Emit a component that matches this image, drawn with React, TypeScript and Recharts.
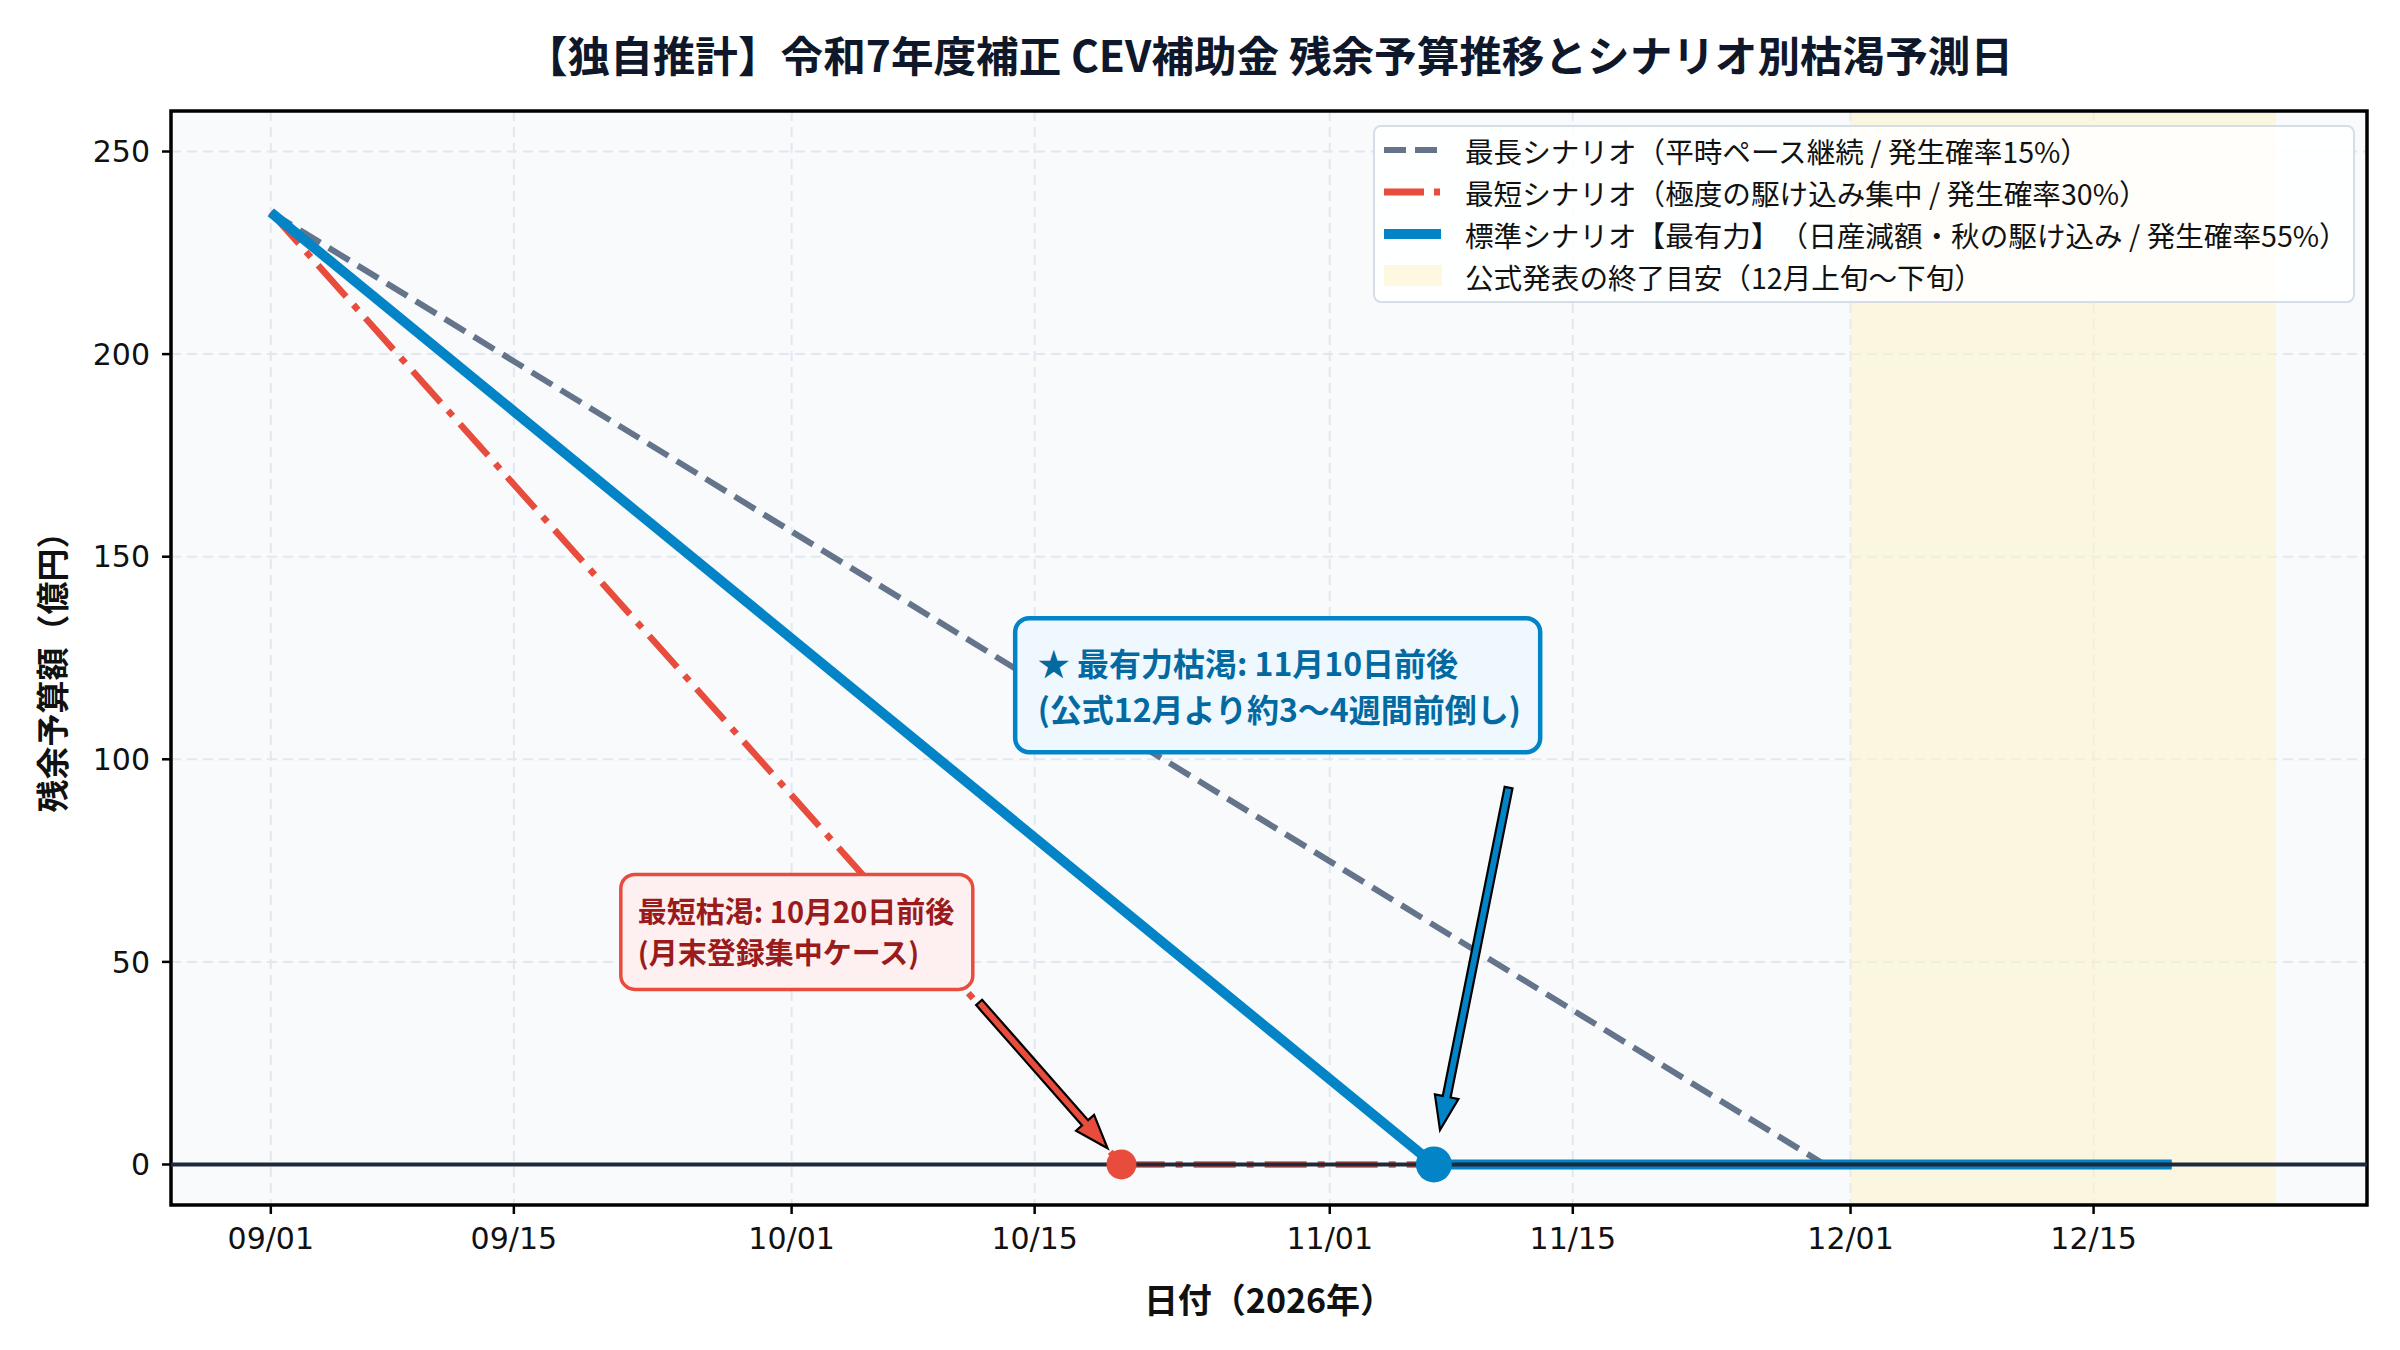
import React from 'react';
import {
  LineChart, Line, XAxis, YAxis, CartesianGrid, ReferenceArea, ReferenceLine, ReferenceDot, Legend,
} from 'recharts';

// Axis ticks (days counted from 2026-09-01)
const dayTicks = [0, 14, 30, 44, 61, 75, 91, 105];
const dayTickLabels = ['09/01', '09/15', '10/01', '10/15', '11/01', '11/15', '12/01', '12/15'];
const valueTicks = [0, 50, 100, 150, 200, 250];
const xDomain = [-5.75, 120.75];
const yDomain = [-10, 260];

// Scenario series (remaining budget, 億円)
const scenarioDays = [0, 49, 67, 89.5, 109.5];
const longestRemaining = [235, null, null, 0, 0];
const shortestRemaining = [235, 0, 0, 0, 0];
const standardRemaining = [235, null, 0, 0, 0];

const shortestDryDay = 49;
const standardDryDay = 67;
const officialEndRange = [91, 115.5];

const seriesNames = [
  '最長シナリオ（平時ペース継続 / 発生確率15%）',
  '最短シナリオ（極度の駆け込み集中 / 発生確率30%）',
  '標準シナリオ【最有力】（日産減額・秋の駆け込み / 発生確率55%）',
];
const shadeName = '公式発表の終了目安（12月上旬～下旬）';

// Annotation anchors (data coords)
const standardNote = { day: 58.0, value: 118.3, lines: ['★ 最有力枯渇: 11月10日前後', '(公式12月より約3～4週間前倒し)'] };
const shortestNote = { day: 30.3, value: 57.4, lines: ['最短枯渇: 10月20日前後', '(月末登録集中ケース)'] };
const standardArrow = { from: { x: 71.3, y: 93 }, to: { x: 67.35, y: 8.5 } };
const shortestArrow = { from: { x: 40.8, y: 40 }, to: { x: 48.2, y: 4 } };

const GRAY = '#64748b';
const RED = '#e74c3c';
const BLUE = '#0284c7';
const JP = "'Noto Sans CJK JP', 'Noto Sans', sans-serif";

const data = scenarioDays.map((day, i) => ({
  day,
  longest: longestRemaining[i],
  shortest: shortestRemaining[i],
  standard: standardRemaining[i],
}));

const noTrim: any = { textSpacingTrim: 'space-all' };

const Arrow = (props: any) => {
  const { x1, y1, x2, y2, fill } = props;
  const dx = x2 - x1, dy = y2 - y1;
  const len = Math.sqrt(dx * dx + dy * dy);
  const ux = dx / len, uy = dy / len;
  const nx = -uy, ny = ux;
  const headLen = 34, headW = 12, shaftW = 4;
  const bx = x2 - ux * headLen, by = y2 - uy * headLen;
  const pts = [
    [x1 + nx * shaftW, y1 + ny * shaftW],
    [bx + nx * shaftW, by + ny * shaftW],
    [bx + nx * headW, by + ny * headW],
    [x2, y2],
    [bx - nx * headW, by - ny * headW],
    [bx - nx * shaftW, by - ny * shaftW],
    [x1 - nx * shaftW, y1 - ny * shaftW],
  ].map((p) => p.join(',')).join(' ');
  return <polygon points={pts} fill={fill} stroke="#000" strokeWidth={2.2} strokeLinejoin="miter" />;
};

const NoteBox = (props: any) => {
  const { cx, cy, w, h, lines, fill, stroke, color, fontSize, textLeft, lineOffsets, strokeWidth } = props;
  return (
    <g>
      <rect x={cx - w / 2} y={cy - h / 2} width={w} height={h} rx={14} ry={14} fill={fill} stroke={stroke} strokeWidth={strokeWidth} />
      {lines.map((t: string, i: number) => (
        <text key={i} x={cx + textLeft} y={cy + lineOffsets[i]} dominantBaseline="central" fontFamily={JP}
          fontWeight="bold" fontSize={fontSize} fill={color} style={noTrim}>{t}</text>
      ))}
    </g>
  );
};

const renderLegend = () => {
  const rows = [
    { name: seriesNames[0], kind: 'line', color: GRAY, width: 6, dash: '22 9' },
    { name: seriesNames[1], kind: 'line', color: RED, width: 7, dash: '40 10 6 10' },
    { name: seriesNames[2], kind: 'line', color: BLUE, width: 10, dash: undefined },
    { name: shadeName, kind: 'rect', color: '#fef8e0' },
  ];
  return (
    <div style={{
      width: 982, height: 178, boxSizing: 'border-box', background: 'rgba(255,255,255,0.85)',
      border: '2px solid #d5dde7', borderRadius: 8, position: 'relative',
    }}>
      {rows.map((r, i) => (
        <div key={i} style={{ position: 'absolute', left: 0, top: 2 + i * 42, height: 42, display: 'flex', alignItems: 'center' }}>
          <svg width={90} height={42} style={{ display: 'block' }}>
            {r.kind === 'line'
              ? <line x1={9} y1={21} x2={66} y2={21} stroke={r.color} strokeWidth={r.width} strokeDasharray={r.dash} />
              : <rect x={9} y={10} width={58} height={21} fill={r.color} />}
          </svg>
          <span style={{ fontFamily: JP, fontSize: 28.6, color: '#111', whiteSpace: 'nowrap', ...noTrim }}>{r.name}</span>
        </div>
      ))}
    </div>
  );
};

export default function App() {
  return (
    <div style={{ position: 'absolute', left: 0, top: 0, width: 2400, height: 1350, background: '#fff', ...noTrim }}>
      <div style={{
        position: 'absolute', left: 0, width: 2538, top: 26, textAlign: 'center', fontFamily: JP,
        fontWeight: 'bold', fontSize: 42.6, color: '#0f172a', lineHeight: '56px', ...noTrim,
      }}>【独自推計】令和7年度補正 CEV補助金 残余予算推移とシナリオ別枯渇予測日</div>
      <div style={{
        position: 'absolute', left: 0, width: 2538, top: 1279, textAlign: 'center', fontFamily: JP,
        fontWeight: 'bold', fontSize: 34, color: '#111', lineHeight: '40px', ...noTrim,
      }}>日付（2026年）</div>
      <div style={{
        position: 'absolute', left: 51, top: 664, transform: 'translate(-50%, -50%) rotate(-90deg)',
        fontFamily: JP, fontWeight: 'bold', fontSize: 33, color: '#111', whiteSpace: 'nowrap', lineHeight: '40px', ...noTrim,
      }}>残余予算額（億円）</div>
      <div style={{ position: 'absolute', left: 0, top: 0 }}>
        <LineChart width={2400} height={1350} data={data} margin={{ top: 111, right: 33, bottom: 65, left: 71 }}>
          <CartesianGrid fill="#f8fafc" stroke="#e2e8f0" strokeWidth={2} strokeDasharray="10 6" />
          <ReferenceArea x1={officialEndRange[0]} x2={officialEndRange[1]} fill="#fef3c7" fillOpacity={0.55} stroke="none" ifOverflow="visible" />
          <XAxis type="number" dataKey="day" domain={xDomain} ticks={dayTicks} allowDataOverflow
            tickFormatter={(d: number) => dayTickLabels[dayTicks.indexOf(d)]}
            axisLine={false} tickLine={{ stroke: '#000', strokeWidth: 2.5 }} tickSize={9} tickMargin={14} height={80}
            tick={{ fontSize: 30, fill: '#111', fontFamily: 'DejaVu Sans' }} />
          <YAxis type="number" domain={yDomain} ticks={valueTicks} allowDataOverflow width={100}
            axisLine={false} tickLine={{ stroke: '#000', strokeWidth: 2.5 }} tickSize={9} tickMargin={12}
            tick={{ fontSize: 30, fill: '#111', fontFamily: 'DejaVu Sans' }} />
          <Line type="linear" dataKey="longest" name={seriesNames[0]} stroke={GRAY} strokeWidth={6}
            strokeDasharray="24 10" dot={false} activeDot={false} connectNulls isAnimationActive={false} />
          <Line type="linear" dataKey="shortest" name={seriesNames[1]} stroke={RED} strokeWidth={6.5}
            strokeDasharray="42 11 7 11" dot={false} activeDot={false} connectNulls isAnimationActive={false} />
          <Line type="linear" dataKey="standard" name={seriesNames[2]} stroke={BLUE} strokeWidth={10}
            dot={false} activeDot={false} connectNulls isAnimationActive={false} />
          <ReferenceLine y={0} stroke="#1e293b" strokeWidth={4} ifOverflow="visible" />
          <ReferenceDot x={shortestDryDay} y={0} r={15} fill={RED} stroke="none" ifOverflow="visible" />
          <ReferenceDot x={standardDryDay} y={0} r={18} fill={BLUE} stroke="none" ifOverflow="visible" />
          <ReferenceArea x1={xDomain[0]} x2={xDomain[1]} y1={yDomain[0]} y2={yDomain[1]} fill="none" stroke="#000" strokeWidth={3.5} ifOverflow="visible" />
          <ReferenceLine segment={[shortestArrow.from, shortestArrow.to]} ifOverflow="visible"
            shape={(p: any) => <Arrow {...p} fill={RED} />} />
          <ReferenceLine segment={[standardArrow.from, standardArrow.to]} ifOverflow="visible"
            shape={(p: any) => <Arrow {...p} fill={BLUE} />} />
          <ReferenceDot x={shortestNote.day} y={shortestNote.value} r={1} ifOverflow="visible"
            shape={(p: any) => <NoteBox cx={p.cx} cy={p.cy} w={352} h={115} lines={shortestNote.lines}
              fill="#fef0f0" stroke={RED} strokeWidth={3.5} color="#991b1b" fontSize={29}
              textLeft={-159} lineOffsets={[-22, 19]} />} />
          <ReferenceDot x={standardNote.day} y={standardNote.value} r={1} ifOverflow="visible"
            shape={(p: any) => <NoteBox cx={p.cx} cy={p.cy} w={525} h={134} lines={standardNote.lines}
              fill="#eff8ff" stroke={BLUE} strokeWidth={4.5} color="#0369a1" fontSize={32}
              textLeft={-240} lineOffsets={[-23, 23]} />} />
          <Legend layout="vertical" align="center" verticalAlign="middle" content={renderLegend}
            wrapperStyle={{ position: 'absolute', left: 1373, top: 125, width: 982, height: 178 }} />
        </LineChart>
      </div>
    </div>
  );
}
